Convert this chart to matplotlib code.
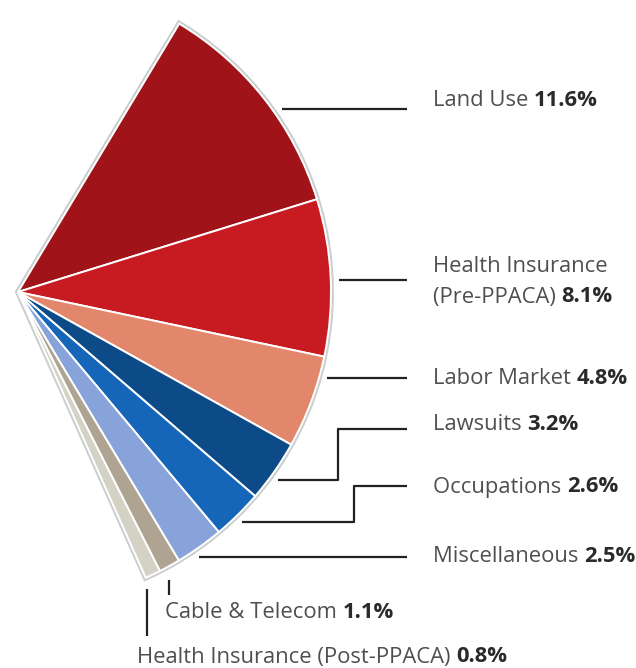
import matplotlib
matplotlib.use("Agg")
import matplotlib.pyplot as plt
import numpy as np

# Share of cases by topic (percent)
categories = ["Land Use", "Health Insurance (Pre-PPACA)", "Labor Market", "Lawsuits",
              "Occupations", "Miscellaneous", "Cable & Telecom",
              "Health Insurance (Post-PPACA)"]
shares = [11.6, 8.1, 4.8, 3.2, 2.6, 2.5, 1.1, 0.8]
colors = ["#A01419", "#C81B21", "#E2866C", "#0D4B88", "#1566B8", "#88A3D9",
          "#AEA491", "#D4D1C5"]

W, H = 636, 668
fig = plt.figure(figsize=(W / 100, H / 100), dpi=100)
ax = fig.add_axes([0, 0, 1, 1])

# pixel-style coordinates (y grows downward)
cx, cy, R = 18, 292, 313
start = -59.0   # data angle; y axis is inverted, so this points up-right

fr = np.array(shares) / 100.0
# light grey rim behind the whole sector
ax.pie([fr.sum()], normalize=False, startangle=start, counterclock=True,
       center=(cx, cy), radius=R, colors=["#C9CECE"],
       wedgeprops=dict(edgecolor="#C9CECE", linewidth=4.2))
ax.pie(fr, normalize=False, startangle=start, counterclock=True,
       center=(cx, cy), radius=R, colors=colors,
       wedgeprops=dict(edgecolor="white", linewidth=1.4))

ax.set_xlim(0, W)
ax.set_ylim(H, 0)
ax.set_aspect("equal")
ax.axis("off")

LINE = dict(color="#222222", lw=1.6, solid_capstyle="butt")
RG = 321  # radius where leaders begin


def arc_x(y):
    return cx + np.sqrt(RG ** 2 - (y - cy) ** 2)


def arc_y(x, rg=RG):
    return cy + np.sqrt(rg ** 2 - (x - cx) ** 2)


XE = 407
# straight leaders
for y in [109, 280, 378, 557]:
    ax.plot([arc_x(y), XE], [y, y], **LINE)
# elbow leaders
for y0, xk, y1 in [(480, 338, 429), (522, 354, 486)]:
    ax.plot([arc_x(y0), xk, xk, XE], [y0, y0, y1, y1], **LINE)
# vertical leaders at the bottom
ax.plot([169, 169], [arc_y(169, 325), 595], **LINE)
ax.plot([147, 147], [arc_y(147, 324), 636], **LINE)

FAM = ["Open Sans", "DejaVu Sans"]
FS = 15.8
renderer = fig.canvas.get_renderer()


def label(x, y, name, value):
    t = ax.text(x, y, name + " ", fontsize=FS, family=FAM, color="#4F4F4F",
                va="center", ha="left")
    bb = t.get_window_extent(renderer=renderer)
    x2 = ax.transData.inverted().transform((bb.x1, 0))[0]
    ax.text(x2, y, value, fontsize=FS, family=FAM, color="#2A2A2A",
            fontweight="bold", va="center", ha="left")


XT = 433
label(XT, 100, categories[0], f"{shares[0]}%")
ax.text(XT, 267, "Health Insurance", fontsize=FS, family=FAM, color="#4F4F4F",
        va="center", ha="left")
label(XT, 297, "(Pre-PPACA)", f"{shares[1]}%")
label(XT, 379, categories[2], f"{shares[2]}%")
label(XT, 425, categories[3], f"{shares[3]}%")
label(XT, 487, categories[4], f"{shares[4]}%")
label(XT, 557, categories[5], f"{shares[5]}%")
label(165, 612, categories[6], f"{shares[6]}%")
label(137, 657, categories[7], f"{shares[7]}%")

fig.savefig("out.png", dpi=100, facecolor="white")
